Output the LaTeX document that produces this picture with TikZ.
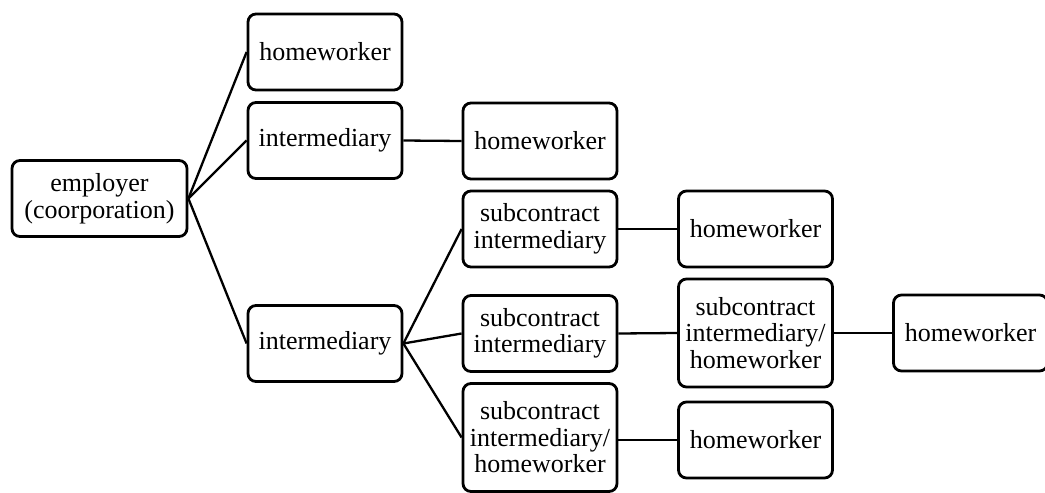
\documentclass[tikz,border=0pt]{standalone}
\usepackage{fontspec}
\setmainfont{Liberation Serif}
\begin{document}
\begin{tikzpicture}[x=1pt,y=-1pt,
  box/.style={draw, line width=2.8pt, rounded corners=8pt, inner sep=0pt,
    minimum width=154pt, minimum height=76pt, align=center,
    font=\fontsize{26}{26.5}\selectfont},
  tall/.style={minimum height=108pt},
  link/.style={line width=2.3pt}]
\useasboundingbox (0,0) rectangle (1045,493);
\node[box, minimum width=175pt] (emp) at (99.5,198.5) {employer\\(coorporation)};
\node[box] (hw1) at (325,52) {homeworker};
\node[box] (int1) at (325,140.5) {intermediary};
\node[box] (hw2) at (540,141) {homeworker};
\node[box] (int2) at (325,343.5) {intermediary};
\node[box] (sci1) at (540,229) {subcontract\\intermediary};
\node[box] (hw3) at (755.5,229) {homeworker};
\node[box] (sci2) at (540,333.5) {subcontract\\intermediary};
\node[box, tall] (scih1) at (755.5,333) {subcontract\\intermediary/\\homeworker};
\node[box] (hw4) at (970.5,333) {homeworker};
\node[box, tall] (scih2) at (540,437.5) {subcontract\\intermediary/\\homeworker};
\node[box] (hw5) at (755.5,440) {homeworker};
\draw[link] (emp.east) -- (hw1.west);
\draw[link] (emp.east) -- (int1.west);
\draw[link] (emp.east) -- (int2.west);
\draw[link] (int1.east) -- (hw2.west);
\draw[link] (int2.east) -- (sci1.west);
\draw[link] (int2.east) -- (sci2.west);
\draw[link] (int2.east) -- (scih2.west);
\draw[link] (sci1.east) -- (hw3.west);
\draw[link] (sci2.east) -- (scih1.west);
\draw[link] (scih1.east) -- (hw4.west);
\draw[link] (hw5.west -| scih2.east) -- (hw5.west);
\end{tikzpicture}
\end{document}
